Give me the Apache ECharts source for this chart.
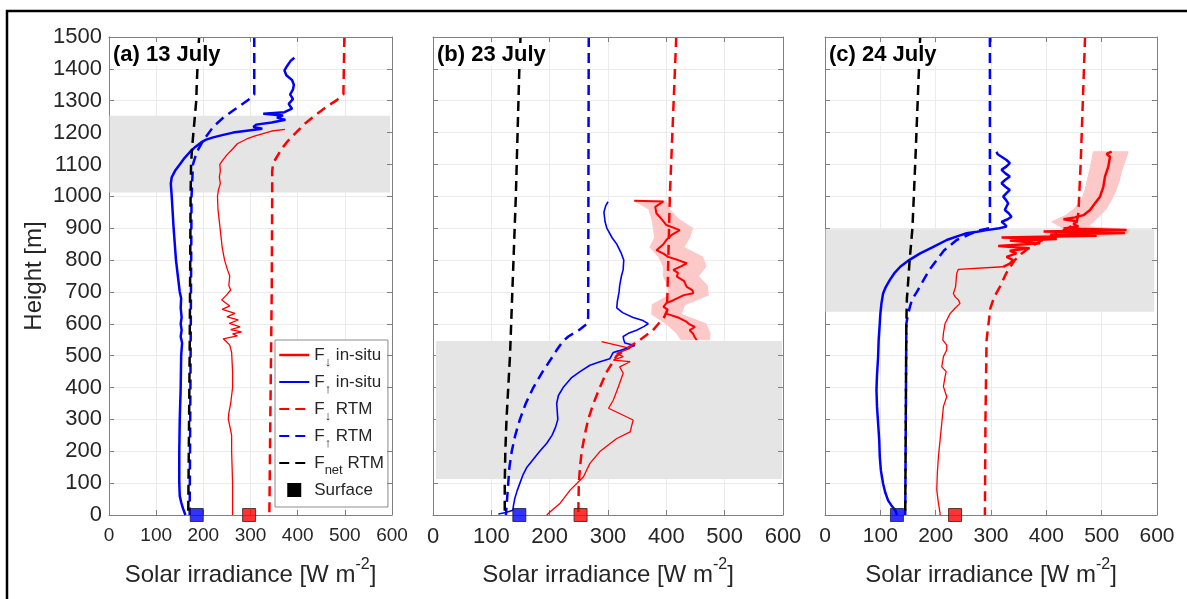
<!DOCTYPE html>
<html>
<head>
<meta charset="utf-8">
<script src="https://cdn.jsdelivr.net/npm/echarts@6/dist/echarts.min.js"></script>
<style>
html,body{margin:0;padding:0;background:#fff;}
#main{width:1187px;height:599px;}
</style>
</head>
<body>
<div id="main"></div>
<script>
// profiles: [irradiance W m-2, height m]
// (a) 13 July
var aDownInsitu = [[373,1210],[345,1205],[334,1200],[310,1190],[292,1180],[272,1165],[263,1150],[250,1130],[242,1115],[235,1100],[236,1080],[234,1060],[236,1040],[232,1020],[230,1000],[231,960],[234,920],[237,880],[240,840],[245,800],[251,770],[256,750],[254,720],[258,706],[249,690],[239,675],[256,656],[240,645],[267,633],[250,622],[274,612],[255,601],[278,590],[258,582],[281,575],[262,568],[272,562],[242,553],[248,545],[256,533],[260,510],[262,450],[262,400],[258,350],[254,320],[253,300],[256,280],[260,250],[260,200],[261,150],[262,100],[262,50],[262,0]];
var aUpInsitu = [[393,1435],[385,1425],[378,1410],[372,1395],[376,1380],[388,1365],[392,1350],[390,1335],[384,1320],[390,1305],[381,1290],[388,1275],[372,1264],[327,1259],[369,1254],[356,1247],[374,1240],[345,1232],[312,1225],[306,1218],[325,1212],[292,1206],[263,1200],[240,1192],[221,1185],[206,1178],[196,1170],[183,1155],[172,1140],[160,1120],[150,1100],[140,1080],[133,1060],[131,1040],[133,1000],[137,900],[142,800],[146,750],[150,700],[153,680],[152,650],[154,620],[152,600],[154,580],[152,560],[155,540],[153,500],[152,400],[150,300],[149,200],[149,100],[150,60],[153,40],[157,20],[162,0]];
var aDownRtm = [[499,1500],[497,1320],[483,1302],[460,1280],[437,1254],[415,1228],[398,1202],[380,1175],[366,1149],[348,1104],[346,1080],[346,1000],[345,700],[342,300],[340,0]];
var aUpRtm = [[308,1500],[308,1320],[295,1302],[264,1270],[240,1244],[221,1218],[200,1176],[186,1139],[178,1100],[175,1000],[173,500],[171,0]];
var aNetRtm = [[191,1500],[188,1420],[186,1350],[185,1300],[182,1250],[179,1200],[176,1150],[174,1100],[173,1000],[171,500],[168,0]];
var aSurface = [[186,0],[297,0]];
var aCloud = [1012,1253];

// (b) 23 July
var bDownInsituTop = [[345,986],[395,984],[381,967],[383,947],[393,926],[400,910],[423,894],[410,880],[400,863],[395,850],[383,831],[395,820],[403,810],[420,800],[435,790],[425,780],[412,769],[420,760],[418,748],[430,735],[435,716],[445,705],[446,696],[430,690],[412,674],[400,665],[395,653],[402,645],[400,632],[420,620],[435,606],[440,598],[449,590],[440,580],[446,569],[448,560],[452,549]];
var bDownInsituLow = [[289,544],[338,523],[315,507],[326,497],[309,486],[338,481],[320,465],[326,445],[318,403],[309,360],[301,335],[343,298],[338,261],[315,240],[286,199],[269,162],[258,120],[235,78],[218,37],[201,10],[195,0]];
var bDownBand = [[345,400,985],[370,405,960],[375,420,930],[378,445,900],[380,440,870],[372,430,840],[387,462,810],[395,468,780],[395,455,750],[402,470,720],[405,472,690],[376,432,660],[375,425,630],[400,468,600],[418,475,570],[425,474,550]];
var bUpInsitu = [[300,983],[296,970],[293,950],[295,920],[298,900],[307,870],[315,850],[323,820],[327,800],[326,770],[323,750],[320,720],[319,700],[316,670],[315,650],[325,635],[343,620],[360,610],[369,600],[362,592],[349,580],[335,570],[326,560],[327,550],[329,540],[346,532],[335,525],[318,515],[309,510],[306,500],[303,490],[285,480],[269,470],[252,450],[237,430],[223,400],[215,375],[212,350],[213,325],[214,300],[210,275],[204,250],[195,225],[183,200],[172,175],[161,150],[154,125],[149,100],[144,75],[140,50],[138,30],[137,15],[125,8],[112,3]];
var bDownRtm = [[417,1500],[406,1000],[402,700],[401,640],[396,620],[377,580],[355,550],[330,520],[315,500],[298,450],[286,400],[275,350],[266,300],[260,250],[255,200],[252,150],[250,100],[249,0]];
var bUpRtm = [[267,1500],[266,620],[264,600],[250,580],[232,560],[223,546],[213,520],[206,500],[188,450],[172,400],[159,350],[149,300],[141,250],[135,200],[131,150],[129,100],[127,50],[125,0]];
var bNetRtm = [[150,1500],[148,1400],[145,1200],[142,1000],[138,800],[134,600],[132,500],[129,400],[126,300],[124,200],[123,100],[123,0]];
var bSurface = [[148,0],[253,0]];
var bCloud = [113,546];

// (c) 24 July
var cDownInsituTop = [[518,1140],[509,1133],[515,1124],[512,1093],[506,1062],[503,1030],[497,999],[488,978],[479,957],[467,941],[452,934],[431,928],[455,922],[449,913],[458,905],[431,899],[545,894],[395,890],[542,885],[407,880],[491,876],[319,871],[419,866],[334,861],[389,853],[313,844],[370,837],[334,829],[346,821],[328,810],[340,800],[334,789],[322,779]];
var cDownInsituLow = [[322,779],[241,771],[238,758],[236,716],[232,695],[235,685],[241,675],[244,664],[235,649],[226,632],[217,601],[214,570],[213,549],[220,533],[220,518],[214,497],[211,465],[219,450],[217,434],[214,403],[220,371],[214,340],[211,288],[208,235],[205,183],[203,131],[202,78],[205,37],[208,5],[208,0]];
var cDownBand = [[485,548,1140],[482,542,1110],[478,536,1080],[474,532,1050],[470,526,1020],[464,518,990],[450,508,960],[435,497,940],[410,485,920],[425,475,905],[430,550,895],[400,548,885],[395,500,875]];
var cUpInsitu = [[310,1140],[312,1132],[319,1124],[328,1114],[334,1104],[328,1094],[319,1083],[326,1072],[334,1062],[326,1052],[319,1041],[326,1030],[334,1020],[328,1010],[322,999],[327,989],[331,978],[328,968],[325,957],[332,947],[337,936],[330,928],[319,920],[325,912],[328,905],[315,900],[292,894],[275,889],[256,884],[240,875],[220,863],[194,840],[172,821],[152,800],[136,779],[125,758],[117,737],[110,716],[105,695],[102,664],[100,630],[99,601],[97,550],[96,497],[94,440],[93,392],[94,340],[96,288],[98,235],[99,183],[101,140],[105,98],[109,70],[114,46],[120,30],[127,15],[130,0]];
var cDownRtm = [[470,1500],[468,1400],[462,1100],[458,950],[455,920],[440,900],[415,880],[390,860],[370,840],[355,820],[343,800],[328,760],[316,716],[306,685],[299,650],[297,622],[292,549],[290,300],[289,0]];
var cUpRtm = [[298,1500],[298,900],[280,894],[260,880],[238,863],[215,830],[202,800],[189,770],[178,737],[166,700],[157,675],[153,650],[149,620],[147,600],[146,300],[145,0]];
var cNetRtm = [[172,1500],[170,1410],[163,1100],[158,900],[157,880],[153,800],[149,700],[148,680],[147,600],[146,300],[145,0]];
var cSurface = [[130,0],[235,0]];
var cCloud = [638,897];

var titles = ['(a) 13 July', '(b) 23 July', '(c) 24 July'];
var xTickSize = [19, 22, 21];

var FONT = '"Liberation Sans", Arial, Helvetica, sans-serif';
var RED = '#ff0000', BLUE = '#0000ff', BLACK = '#000000';
var DASH = [10, 6];

var panels = [
  {left: 109, width: 283, down: [[aDownInsitu, 1.3]], band: null, up: aUpInsitu, upW: 2.5, dRtm: aDownRtm, uRtm: aUpRtm, nRtm: aNetRtm, surf: aSurface, cloud: aCloud, cx: [1, 596]},
  {left: 433, width: 350, down: [[bDownInsituTop, 2], [bDownInsituLow, 1.3]], band: bDownBand, up: bUpInsitu, upW: 1.6, dRtm: bDownRtm, uRtm: bUpRtm, nRtm: bNetRtm, surf: bSurface, cloud: bCloud, cx: [5, 598]},
  {left: 825, width: 332, down: [[cDownInsituTop, 2.5], [cDownInsituLow, 1.3]], band: cDownBand, up: cUpInsitu, upW: 2.5, dRtm: cDownRtm, uRtm: cUpRtm, nRtm: cNetRtm, surf: cSurface, cloud: cCloud, cx: [1, 595]}
];

var grids = [], xAxes = [], yAxes = [], series = [], titleOpt = [];

// axis index of the main (bottom / left) axes of panel i
function ax(i) { return 2 * i; }

function line(name, data, i, color, width, dashed, z) {
  return {
    type: 'line', name: name, xAxisIndex: ax(i), yAxisIndex: ax(i), data: data,
    symbol: 'none', silent: true, animation: false, z: z,
    itemStyle: {color: color, opacity: 0},
    lineStyle: {color: color, width: width, type: dashed ? DASH : 'solid'}
  };
}

panels.forEach(function (p, i) {
  grids.push({left: p.left, top: 37, width: p.width, height: 478});
  var tick = {inside: true, length: 5, lineStyle: {color: '#808080'}};
  var axl = {show: true, onZero: false, lineStyle: {color: '#808080', width: 1}};
  xAxes.push({
    type: 'value', gridIndex: i, position: 'bottom', min: 0, max: 600, interval: 100,
    axisLine: axl, axisTick: tick,
    axisLabel: {fontSize: xTickSize[i], color: '#262626', margin: 11, fontFamily: FONT},
    splitLine: {show: true, lineStyle: {color: '#ebebeb'}},
    name: 'Solar irradiance [W m{sup|-2}]', nameLocation: 'middle', nameGap: 42,
    nameTextStyle: {fontSize: 24, color: '#262626', fontFamily: FONT,
      rich: {sup: {fontSize: 16, color: '#262626', fontFamily: FONT, padding: [0, 0, 20, 0]}}}
  });
  xAxes.push({type: 'value', gridIndex: i, position: 'top', min: 0, max: 600, interval: 100, z: 5,
    axisLine: axl, axisTick: tick, axisLabel: {show: false}, splitLine: {show: false}});
  yAxes.push({
    type: 'value', gridIndex: i, position: 'left', min: 0, max: 1500, interval: 100,
    axisLine: axl, axisTick: tick,
    axisLabel: {show: i === 0, fontSize: 22, color: '#262626', margin: 7, fontFamily: FONT,
      formatter: function (v) { return String(v); }},
    splitLine: {show: true, lineStyle: {color: '#ebebeb'}},
    name: i === 0 ? 'Height [m]' : '', nameLocation: 'middle', nameGap: 63,
    nameTextStyle: {fontSize: 24, color: '#262626', fontFamily: FONT}
  });
  yAxes.push({type: 'value', gridIndex: i, position: 'right', min: 0, max: 1500, interval: 100, z: 5,
    axisLine: axl, axisTick: tick, axisLabel: {show: false}, splitLine: {show: false}});

  titleOpt.push({
    text: titles[i], left: p.left + 2, top: 45, padding: [1, 2, 0, 2], backgroundColor: '#fff',
    textStyle: {fontSize: 22, fontWeight: 'bold', color: '#000', fontFamily: FONT, lineHeight: 18}
  });

  // cloud layer + RTM lines
  var net = line('Fnet RTM', p.nRtm, i, BLACK, 2.5, true, 4);
  net.markArea = {silent: true, z: 1, itemStyle: {color: '#e5e5e5'},
    data: [[{xAxis: p.cx[0], yAxis: p.cloud[0]}, {xAxis: p.cx[1], yAxis: p.cloud[1]}]]};
  series.push(line('F↓ RTM', p.dRtm, i, RED, 2.5, true, 3));
  series.push(line('F↑ RTM', p.uRtm, i, BLUE, 2.5, true, 3));
  series.push(net);

  if (p.band) {
    var band = p.band;
    series.push({
      type: 'custom', xAxisIndex: ax(i), yAxisIndex: ax(i), data: band, z: 1.5, silent: true, animation: false,
      encode: {x: [0, 1], y: 2},
      renderItem: function (params, api) {
        var k = params.dataIndex;
        if (k >= band.length - 1) return;
        var a = band[k], b = band[k + 1];
        var pts = [api.coord([a[0], a[2]]), api.coord([a[1], a[2]]), api.coord([b[1], b[2]]), api.coord([b[0], b[2]])];
        return {type: 'polygon', shape: {points: pts}, style: {fill: '#fcc8c8', stroke: '#fcc8c8', lineWidth: 1}};
      }
    });
  }
  p.down.forEach(function (d) {
    series.push(line('F↓ in-situ', d[0], i, RED, d[1], false, 2));
  });
  series.push(line('F↑ in-situ', p.up, i, BLUE, p.upW, false, 2));

  series.push({
    type: 'scatter', name: 'Surface', xAxisIndex: ax(i), yAxisIndex: ax(i), clip: false, silent: true, animation: false,
    symbol: 'rect', symbolSize: 13, z: 6,
    itemStyle: {color: BLACK},
    data: [
      {value: p.surf[0], itemStyle: {color: BLUE, borderColor: '#1a1a40', borderWidth: 1}},
      {value: p.surf[1], itemStyle: {color: RED, borderColor: '#401a1a', borderWidth: 1}}
    ]
  });
});

var legendText = {
  'F↓ in-situ': 'F{s|↓} in-situ',
  'F↑ in-situ': 'F{s|↑} in-situ',
  'F↓ RTM': 'F{s|↓} RTM',
  'F↑ RTM': 'F{s|↑} RTM',
  'Fnet RTM': 'F{s|net} RTM',
  'Surface': 'Surface'
};

var option = {
  animation: false,
  backgroundColor: '#fff',
  title: titleOpt,
  grid: grids,
  xAxis: xAxes,
  yAxis: yAxes,
  legend: {
    left: 275, top: 340, orient: 'vertical', itemWidth: 30, itemHeight: 14, itemGap: -1,
    padding: [1, 4, 3, 3], backgroundColor: '#fff', borderColor: '#8c8c8c', borderWidth: 1,
    selectedMode: false,
    data: [
      {name: 'F↓ in-situ', lineStyle: {width: 2.5}},
      'F↑ in-situ', 'F↓ RTM', 'F↑ RTM', 'Fnet RTM',
      {name: 'Surface', icon: 'path://M0 0H10V10H0Z', itemStyle: {color: BLACK, opacity: 1}}
    ],
    formatter: function (name) { return legendText[name]; },
    textStyle: {fontSize: 17, lineHeight: 28, color: '#262626', fontFamily: FONT,
      rich: {s: {fontSize: 13, lineHeight: 28, color: '#262626', fontFamily: FONT, verticalAlign: 'bottom'}}}
  },
  graphic: [
    {type: 'line', shape: {x1: 6, y1: 11, x2: 1187, y2: 11}, style: {stroke: '#000', lineWidth: 2.5}, z: 10},
    {type: 'line', shape: {x1: 7, y1: 10, x2: 7, y2: 599}, style: {stroke: '#000', lineWidth: 2.5}, z: 10}
  ],
  series: series
};

var myChart = echarts.init(document.getElementById('main'), null, {renderer: 'canvas'});
myChart.setOption(option);
</script>
</body>
</html>
